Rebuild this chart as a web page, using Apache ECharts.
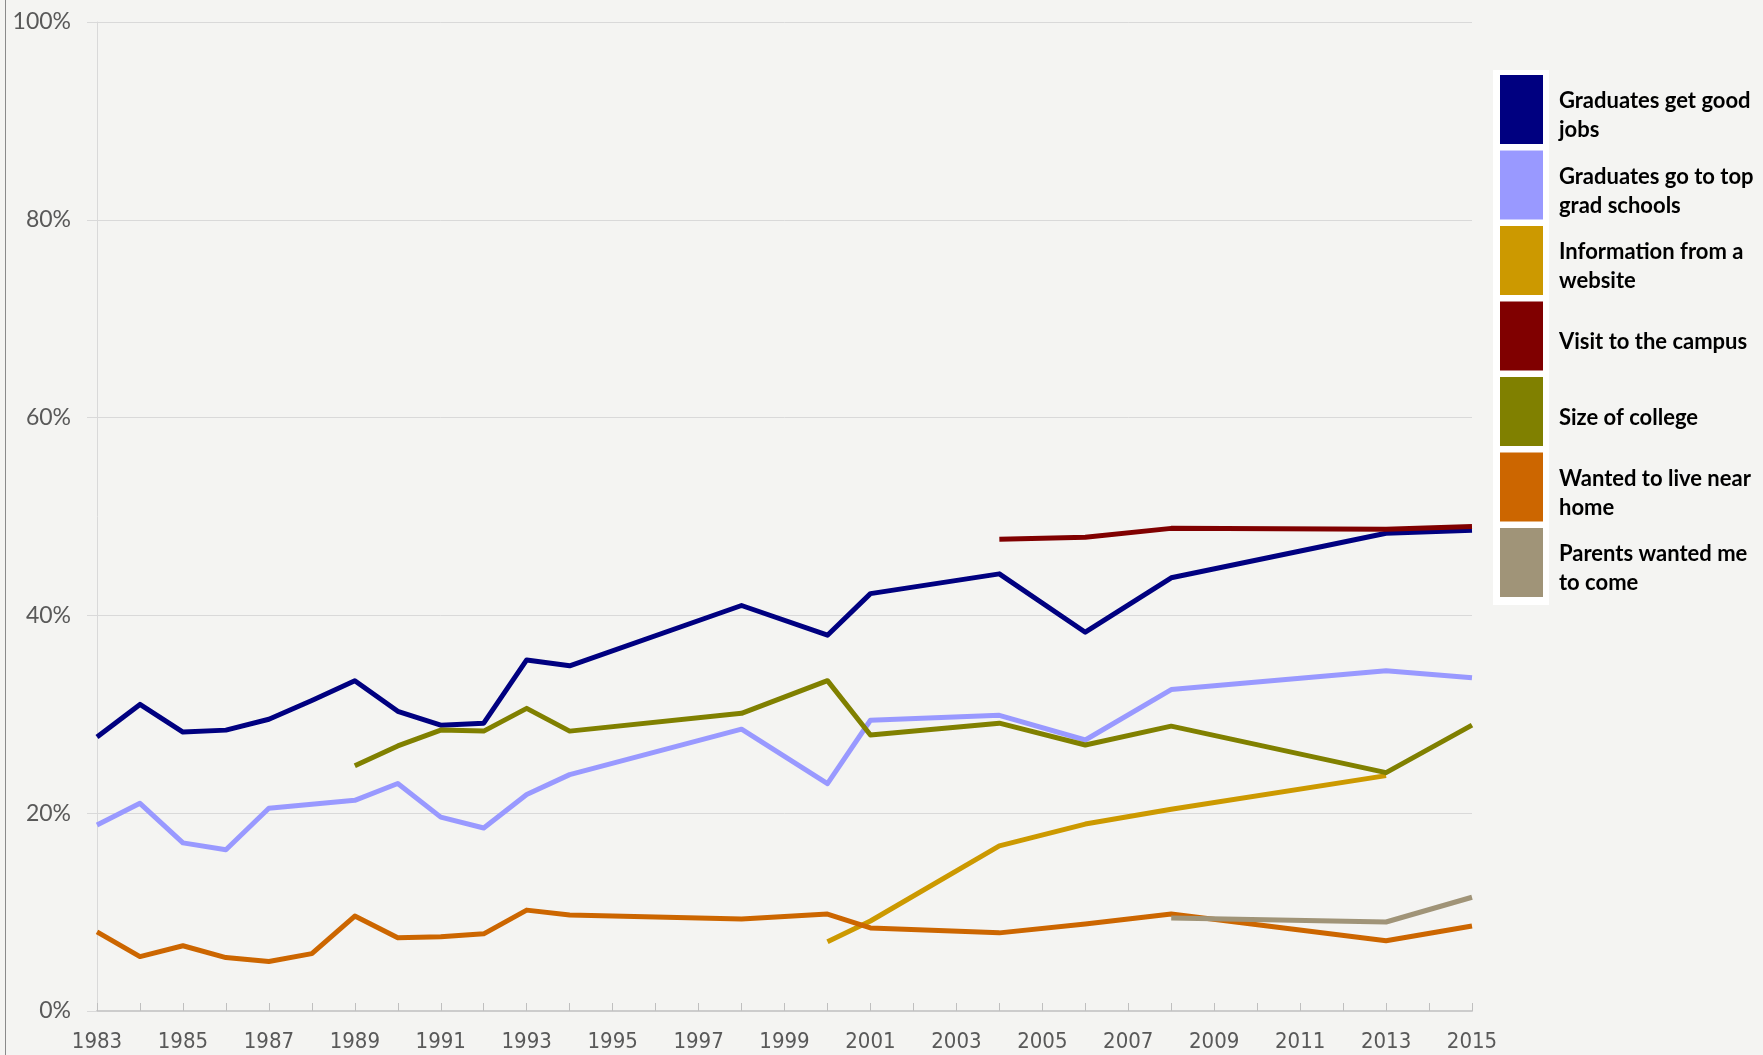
<!DOCTYPE html>
<html>
<head>
<meta charset="utf-8">
<script src="https://cdn.jsdelivr.net/npm/echarts@6/dist/echarts.min.js"></script>
<style>
  html, body { margin: 0; padding: 0; background: #f4f4f2; }
  #chart { width: 1763px; height: 1055px; }
  #frame { position: absolute; left: 5px; top: 0; width: 1px; height: 1055px; background: #8a8a8a; }
</style>
</head>
<body>
<div id="chart"></div>
<div id="frame"></div>
<script>
// survey years on the x axis
const years = [];
for (let y = 1983; y <= 2015; y++) years.push(String(y));

// values (percent), null = no survey that year
const goodJobs = [27.7, 31.0, 28.2, 28.4, 29.5, 31.4, 33.4, 30.3, 28.9, 29.1, 35.5, 34.9, null, null, null, 41.0, null, 38.0, 42.2, null, null, 44.2, null, 38.3, null, 43.8, null, null, null, null, 48.3, null, 48.6];
const gradSchools = [18.8, 21.0, 17.0, 16.3, 20.5, 20.9, 21.3, 23.0, 19.6, 18.5, 21.9, 23.9, null, null, null, 28.5, null, 23.0, 29.4, null, null, 29.9, null, 27.4, null, 32.5, null, null, null, null, 34.4, null, 33.7];
const website = [null, null, null, null, null, null, null, null, null, null, null, null, null, null, null, null, null, 7.0, 9.1, null, null, 16.7, null, 18.9, null, 20.4, null, null, null, null, 23.8, null, null];
const campusVisit = [null, null, null, null, null, null, null, null, null, null, null, null, null, null, null, null, null, null, null, null, null, 47.7, null, 47.9, null, 48.8, null, null, null, null, 48.7, null, 49.0];
const collegeSize = [null, null, null, null, null, null, 24.8, 26.8, 28.4, 28.3, 30.6, 28.3, null, null, null, 30.1, null, 33.4, 27.9, null, null, 29.1, null, 26.9, null, 28.8, null, null, null, null, 24.1, null, 28.9];
const nearHome = [8.0, 5.5, 6.6, 5.4, 5.0, 5.8, 9.6, 7.4, 7.5, 7.8, 10.2, 9.7, null, null, null, 9.3, null, 9.8, 8.4, null, null, 7.9, null, 8.8, null, 9.8, null, null, null, null, 7.1, null, 8.6];
const parents = [null, null, null, null, null, null, null, null, null, null, null, null, null, null, null, null, null, null, null, null, null, null, null, null, null, 9.4, null, null, null, null, 9.0, null, 11.5];

const seriesNames = ['Graduates get good jobs', 'Graduates go to top grad schools', 'Information from a website', 'Visit to the campus', 'Size of college', 'Wanted to live near home', 'Parents wanted me to come'];
const legendText = ['Graduates get good\njobs', 'Graduates go to top\ngrad schools', 'Information from a\nwebsite', 'Visit to the campus', 'Size of college', 'Wanted to live near\nhome', 'Parents wanted me\nto come'];
const seriesData = [goodJobs, gradSchools, website, campusVisit, collegeSize, nearHome, parents];
const colors = ['#000080', '#9999ff', '#cc9900', '#800000', '#808000', '#cc6600', '#a09478'];

const myChart = echarts.init(document.getElementById('chart'));

// shared legend layout; swatches and labels are two legends so the labels can sit a bit lower
const legendBase = {
    orient: 'vertical',
    left: 1500,
    padding: 0,
    z: 10,
    icon: 'rect',
    itemWidth: 43,
    itemHeight: 69,
    itemGap: 6.5,
    selectedMode: false,
    data: seriesNames
};

const option = {
    backgroundColor: '#f4f4f2',
    animation: false,
    grid: { left: 97, right: 291, top: 22, bottom: 44 },
    graphic: [
        {
            // white backing behind the legend swatches
            type: 'rect',
            z: 1,
            shape: { x: 1493, y: 70, width: 56, height: 535 },
            style: { fill: '#ffffff' }
        }
    ],
    legend: [
        Object.assign({}, legendBase, {
            top: 75,
            formatter: () => ''
        }),
        Object.assign({}, legendBase, {
            top: 81,
            itemStyle: { color: 'rgba(0,0,0,0)' },
            formatter: name => legendText[seriesNames.indexOf(name)],
            textStyle: {
                fontFamily: 'Lato, "Open Sans", sans-serif',
                fontWeight: 'bold',
                fontSize: 22,
                lineHeight: 29,
                color: '#000000',
                padding: [8, 0, 0, 11]
            }
        })
    ],
    xAxis: {
        type: 'category',
        boundaryGap: false,
        data: years,
        axisLine: { lineStyle: { color: '#cccccc', width: 2 } },
        axisTick: { show: true, inside: true, length: 8, interval: 0, lineStyle: { color: '#bfbfbf' } },
        axisLabel: {
            interval: 1,
            margin: 20,
            color: '#595959',
            fontSize: 22,
            fontFamily: '"Liberation Sans Narrow", "DejaVu Sans Condensed", Lato, sans-serif'
        },
        splitLine: { show: false }
    },
    yAxis: {
        type: 'value',
        min: 0,
        max: 100,
        interval: 20,
        axisLine: { show: true, lineStyle: { color: '#d9d9d9' } },
        axisTick: { show: true, length: 10, lineStyle: { color: '#d9d9d9' } },
        axisLabel: {
            formatter: '{value}%',
            margin: 26,
            color: '#595959',
            fontSize: 23,
            fontFamily: 'Lato, sans-serif'
        },
        splitLine: { lineStyle: { color: '#d9d9d9' } }
    },
    series: seriesNames.map((name, i) => ({
        name: name,
        type: 'line',
        data: seriesData[i],
        connectNulls: true,
        symbol: 'none',
        color: colors[i],
        itemStyle: { color: colors[i] },
        lineStyle: { color: colors[i], width: 5, join: 'round' }
    }))
};

myChart.setOption(option);
</script>
</body>
</html>
